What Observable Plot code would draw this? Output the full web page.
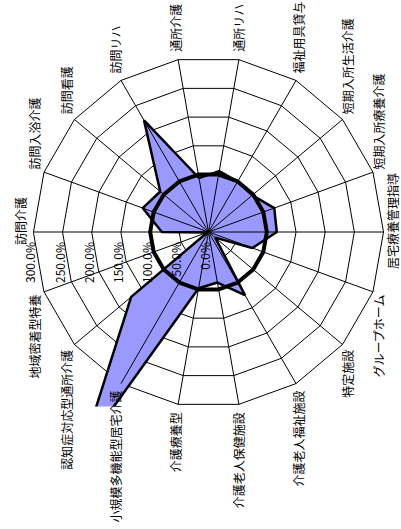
<!DOCTYPE html>
<html><head><meta charset="utf-8">
<script src="https://cdn.jsdelivr.net/npm/d3@7"></script>
<script src="https://cdn.jsdelivr.net/npm/@observablehq/plot@0.6"></script>
<style>html,body{margin:0;padding:0;background:#fff}#chart svg{display:block}</style>
</head><body><div id="chart"></div>
<script>
// categories (clockwise starting from 訪問介護)
const categories = ["訪問介護","訪問入浴介護","訪問看護","訪問リハ","通所介護","通所リハ","福祉用具貸与","短期入所生活介護","短期入所療養介護","居宅療養管理指導","グループホーム","特定施設","介護老人福祉施設","介護老人保健施設","介護療養型","小規模多機能型居宅介護","認知症対応型通所介護","地域密着型特養"];
// series values (%)
const ratio    = [80,120,108,221,94,106,100,98,120,117,80,15,125,88,98,433,173,2];
const baseline = [100,100,100,100,100,100,100,100,100,100,100,100,100,100,100,100,100,100];
// value axis
const tickValues = [0,50,100,150,200,250,300];
const tickLabels = ["0.0%","50.0%","100.0%","150.0%","200.0%","250.0%","300.0%"];

const n = categories.length;
const maxV = 300;
const R = 175; // px radius of the 300% ring
const toRad = Math.PI / 180;
const ang = i => (180 + i * 360 / n) * toRad; // screen angle, clockwise
const px = (i, v) => v * Math.cos(ang(i));
const py = (i, v) => -v * Math.sin(ang(i));
const pxPerUnit = R / maxV;

const rings = [];
tickValues.filter(t => t > 0).forEach(t => categories.forEach((c, i) => rings.push({t, x: px(i, t), y: py(i, t)})));
const spokes = categories.map((c, i) => ({x2: px(i, maxV), y2: py(i, maxV)}));
const series = categories.map((c, i) => ({c, x: px(i, ratio[i]), y: py(i, ratio[i])}));
const base = categories.map((c, i) => ({c, x: px(i, baseline[i]), y: py(i, baseline[i])}));
const isSide = i => i === 0 || i === n / 2;
const labels = categories.map((c, i) => {
  const g = (isSide(i) ? 11 : 8) / pxPerUnit;
  return {c, i, x: px(i, maxV + g), y: py(i, maxV + g)};
});
const ticks = tickValues.map((t, k) => ({x: -t, y: 0, label: tickLabels[k]}));

const font = "'Noto Sans CJK JP', 'Noto Sans', sans-serif";
const chart = Plot.plot({
  width: 401, height: 529,
  marginLeft: 33, marginRight: 18, marginTop: 56.5, marginBottom: 122.5,
  x: {domain: [-maxV, maxV], axis: null},
  y: {domain: [-maxV, maxV], axis: null},
  style: {fontFamily: font, background: "#fff"},
  marks: [
    Plot.line(rings, {x: "x", y: "y", z: "t", curve: "linear-closed", stroke: "#000", strokeWidth: 1}),
    Plot.line(series, {x: "x", y: "y", curve: "linear-closed", fill: "#9999FF", stroke: "#000", strokeWidth: 2.5, strokeLinejoin: "miter", clip: true}),
    Plot.link(spokes, {x1: 0, y1: 0, x2: "x2", y2: "y2", stroke: "#000", strokeWidth: 1}),
    Plot.line(base, {x: "x", y: "y", curve: "linear-closed", stroke: "#000", strokeWidth: 4}),
    Plot.text(ticks, {x: "x", y: "y", text: "label", rotate: -90, textAnchor: "end", lineAnchor: "middle", dy: 10, dx: -2, fontSize: 12, fill: "#000"}),
    Plot.text(labels.filter(d => d.i > 0 && d.i < n / 2), {x: "x", y: "y", text: "c", rotate: -90, textAnchor: "start", lineAnchor: "middle", fontSize: 12, fill: "#000"}),
    Plot.text(labels.filter(d => d.i > n / 2), {x: "x", y: "y", text: "c", rotate: -90, textAnchor: "end", lineAnchor: "middle", fontSize: 12, fill: "#000"}),
    Plot.text(labels.filter(d => isSide(d.i)), {x: "x", y: "y", text: "c", rotate: -90, textAnchor: "middle", lineAnchor: "middle", dy: -11, fontSize: 12, fill: "#000"})
  ]
});
document.getElementById("chart").appendChild(chart);
</script>
</body></html>
